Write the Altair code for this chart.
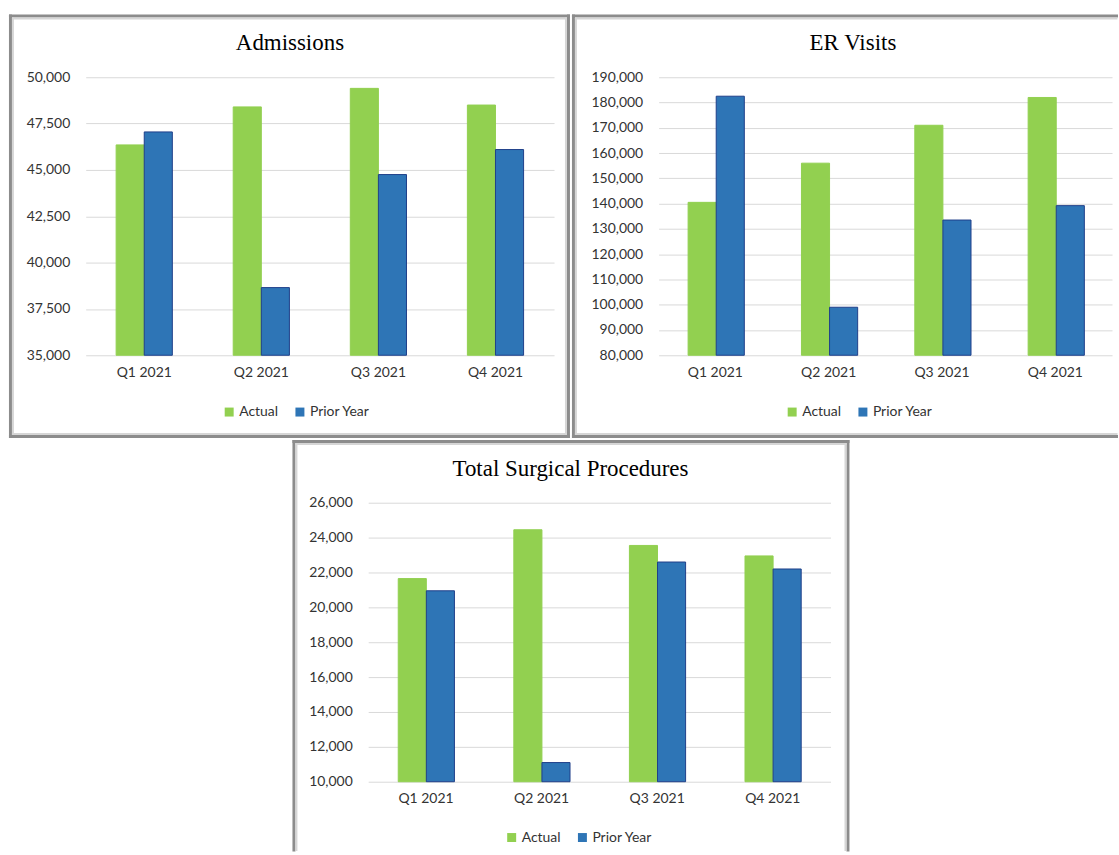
import altair as alt
import pandas as pd

# ---------------- data ----------------
quarters = ["Q1 2021", "Q2 2021", "Q3 2021", "Q4 2021"]
series = ["Actual", "Prior Year"]

adm_actual = [46350, 48400, 49400, 48500]
adm_prior = [47050, 38650, 44750, 46100]
adm_ticks = [35000, 37500, 40000, 42500, 45000, 47500, 50000]

er_actual = [140500, 156000, 171000, 182000]
er_prior = [182500, 99000, 133500, 139200]
er_ticks = [80000, 90000, 100000, 110000, 120000, 130000, 140000, 150000,
            160000, 170000, 180000, 190000]

surg_actual = [21650, 24450, 23550, 22950]
surg_prior = [20950, 11100, 22600, 22200]
surg_ticks = [10000, 12000, 14000, 16000, 18000, 20000, 22000, 24000, 26000]

GREEN = "#92D050"
BLUE = "#2E75B6"
BLUE_EDGE = "#1F3F8A"
LABEL = "#333333"
FONT = "Lato"

one = pd.DataFrame({"k": [0]})


def frame_layers(l, r, t, b, sides):
    layers = []
    specs = [("#8c8c8c", 3, 1.5), ("#d6d6d6", 2, 4)]
    for color, sw, ins in specs:
        if "top" in sides:
            layers.append(alt.Chart(one).mark_rule(color=color, strokeWidth=sw, strokeCap="square").encode(
                x=alt.value(l + ins), x2=alt.value(r - ins if "right" in sides else r - 1.5), y=alt.value(t + ins)))
        if "bottom" in sides:
            layers.append(alt.Chart(one).mark_rule(color=color, strokeWidth=sw, strokeCap="square").encode(
                x=alt.value(l + ins), x2=alt.value(r - ins if "right" in sides else r - 1.5), y=alt.value(b - ins)))
        if "left" in sides:
            layers.append(alt.Chart(one).mark_rule(color=color, strokeWidth=sw, strokeCap="square").encode(
                x=alt.value(l + ins), y=alt.value(t + ins), y2=alt.value(b - ins if "bottom" in sides else b - 1.5)))
        if "right" in sides:
            layers.append(alt.Chart(one).mark_rule(color=color, strokeWidth=sw, strokeCap="square").encode(
                x=alt.value(r - ins), y=alt.value(t + ins), y2=alt.value(b - ins if "bottom" in sides else b - 1.5)))
    return layers


def panel(title, actual, prior, ticks, W, H, edges, sides, title_x, legend_x):
    df = pd.DataFrame({
        "quarter": quarters * 2,
        "series": ["Actual"] * 4 + ["Prior Year"] * 4,
        "value": actual + prior,
    })
    bars = alt.Chart(df).mark_bar(strokeWidth=1).encode(
        x=alt.X("quarter:N", sort=quarters, title=None,
                scale=alt.Scale(paddingInner=0.52, paddingOuter=0.26),
                axis=alt.Axis(labelAngle=0, ticks=False, domain=False, grid=False,
                              labelPadding=10, labelFont=FONT, labelFontSize=14,
                              labelColor=LABEL)),
        xOffset=alt.XOffset("series:N", sort=series,
                            scale=alt.Scale(paddingInner=0, paddingOuter=0)),
        y=alt.Y("value:Q", title=None,
                scale=alt.Scale(domain=[ticks[0], ticks[-1]], nice=False, zero=False),
                axis=alt.Axis(values=ticks, format=",d", ticks=False, domain=False,
                              grid=True, gridColor="#d9d9d9", gridWidth=1,
                              labelPadding=16, labelFont=FONT, labelFontSize=14,
                              labelColor=LABEL)),
        y2=alt.datum(ticks[0]),
        color=alt.Color("series:N", sort=series,
                        scale=alt.Scale(domain=series, range=[GREEN, BLUE]),
                        legend=alt.Legend(orient="none", legendX=legend_x, legendY=329,
                                          direction="horizontal", title=None,
                                          symbolType="square", symbolSize=81,
                                          symbolStrokeWidth=0, labelFont=FONT,
                                          labelFontSize=14, labelColor=LABEL,
                                          labelOffset=3, columnPadding=14, padding=0)),
        stroke=alt.Stroke("series:N", sort=series,
                          scale=alt.Scale(domain=series, range=[GREEN, BLUE_EDGE]),
                          legend=None),
    )
    ttl = alt.Chart(one).mark_text(text=title, font="Liberation Serif", fontSize=23,
                                   color="black", align="center",
                                   baseline="alphabetic").encode(
        x=alt.value(title_x), y=alt.value(-27))
    l, r, t, b = edges
    layers = frame_layers(l, r, t, b, sides) + [ttl, bars]
    return alt.layer(*layers).properties(width=W, height=H).resolve_scale(
        color="independent", stroke="independent")


p1 = panel("Admissions", adm_actual, adm_prior, adm_ticks, 470, 279,
           (-77, 486, -63, 362), ["left", "right", "top", "bottom"], 205, 137)
p2 = panel("ER Visits", er_actual, er_prior, er_ticks, 455, 279,
           (-87, 461, -63, 362), ["left", "top", "bottom"], 195, 127)
p3 = panel("Total Surgical Procedures", surg_actual, surg_prior, surg_ticks, 464, 280,
           (-76, 483, -63, 350), ["left", "top", "right"], 203, 137)

# invisible (white on white) blank cell that pushes the bottom panel to the centre
blank = alt.Chart(one).mark_rule(color="white", strokeWidth=1).encode(
    x=alt.value(0), x2=alt.value(190), y=alt.value(0)
).properties(width=190, height=1)

top = alt.hconcat(p1, p2, spacing=0).resolve_scale(
    color="independent", stroke="independent").resolve_legend(color="independent")
bottom = alt.hconcat(blank, p3, spacing=15.5).resolve_scale(
    color="independent", stroke="independent").resolve_legend(color="independent")

chart = alt.vconcat(
    top,
    bottom,
    spacing=0,
).resolve_scale(
    color="independent", stroke="independent"
).resolve_legend(color="independent").properties(
    padding={"left": 8, "top": 12, "right": 0, "bottom": 0},
    background="white",
).configure_view(stroke=None)

chart.save("out.html", embed_options={"renderer": "svg", "actions": False})
